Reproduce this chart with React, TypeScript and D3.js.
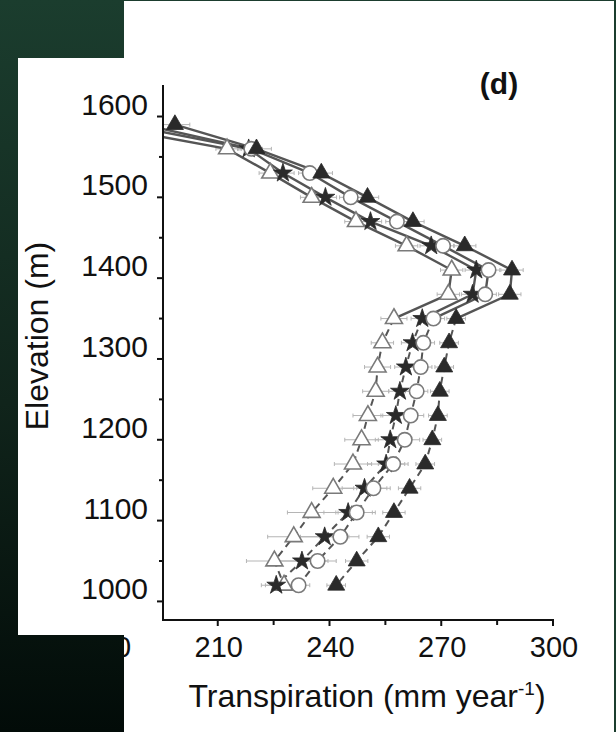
import React from 'react';
import * as d3 from 'd3';

// elevation rows (m), 30 m apart
const elevations = [1590, 1560, 1530, 1500, 1470, 1440, 1410, 1380, 1350, 1320, 1290, 1260, 1230, 1200, 1170, 1140, 1110, 1080, 1050, 1020];

// transpiration (mm year-1) per series
const openTriangle = [177, 212.5, 224.1, 235.2, 247.1, 260.7, 272.8, 271.9, 257.3, 254.2, 252.9, 252.4, 250.3, 248.6, 246.3, 241.0, 235.2, 230.4, 225.2, 227.8];
const filledStar = [185, 218.3, 227.5, 238.9, 251.0, 267.3, 279.4, 278.4, 264.9, 262.3, 260.5, 258.9, 257.8, 256.3, 255.2, 249.4, 245.0, 238.7, 232.6, 225.7];
const openCircle = [190, 219, 234.7, 245.7, 258.1, 270.5, 282.7, 281.8, 267.9, 265.2, 264.5, 263.4, 261.8, 260.2, 257.1, 251.8, 247.3, 242.9, 236.8, 231.7];
const filledTriangle = [198.5, 220.4, 237.8, 250.2, 262.4, 276.3, 289.0, 288.4, 274.0, 272.1, 270.8, 269.6, 269.1, 267.6, 265.7, 261.5, 257.3, 253.1, 247.3, 241.8];

// error bar half-widths
const openTriangleErr = [3, 3, 3, 3, 3, 3, 3, 3, 3.5, 3, 3.5, 3.5, 4, 4.5, 5, 5.5, 6.5, 7, 7.5, 5];
const filledStarErr = [3, 3, 3, 3, 3, 3, 3, 3, 3, 3, 3, 3, 4, 4, 5, 6, 6.5, 6.5, 7, 4];
const openCircleErr = [3, 3, 3, 3, 3, 3, 3, 3, 3, 3, 3, 3, 3.5, 4, 4, 4.5, 5, 5, 5, 3];
const filledTriangleErr = [4, 4, 3, 3, 3, 3, 3, 3, 2.5, 2.5, 2.5, 2.5, 2.5, 2.5, 2.5, 3, 3, 3, 3, 2.5];

const yMajorTicks = [1000, 1100, 1200, 1300, 1400, 1500, 1600];
const yMinorTicks = [1050, 1150, 1250, 1350, 1450, 1550];
const xMajorTicks = [180, 210, 240, 270, 300];
const xMinorTicks = [225, 255, 285];

// index where line style turns from solid to dashed (1350 m)
const splitIndex = 8;

const series = [
	{ name: 'openTriangle', values: openTriangle, err: openTriangleErr },
	{ name: 'filledStar', values: filledStar, err: filledStarErr },
	{ name: 'openCircle', values: openCircle, err: openCircleErr },
	{ name: 'filledTriangle', values: filledTriangle, err: filledTriangleErr },
];

const W = 616;
const H = 732;

export default function App() {
	const x = d3.scaleLinear().domain([195.3, 300]).range([163, 553]);
	const y = d3.scaleLinear().domain([977, 1639]).range([620, 85]);

	const pathFor = (vals: number[], from: number, to: number) =>
		d3
			.line<[number, number]>()
			.x((d) => x(d[0]))
			.y((d) => y(d[1]))(
			vals.slice(from, to + 1).map((v, i) => [v, elevations[from + i]] as [number, number])
		) || '';

	const triangle = d3.symbol().type(d3.symbolTriangle).size(125)() || '';
	const star = d3.symbol().type(d3.symbolStar).size(110)() || '';

	const marker = (name: string, key: string, cx: number, cy: number) => {
		if (name === 'openTriangle')
			return <path key={key} d={triangle} transform={`translate(${cx},${cy})`} fill="#fff" stroke="#7a7a7a" strokeWidth={1.6} />;
		if (name === 'filledStar')
			return <path key={key} d={star} transform={`translate(${cx},${cy})`} fill="#2a2a2a" stroke="#2a2a2a" strokeWidth={0.8} />;
		if (name === 'openCircle')
			return <circle key={key} cx={cx} cy={cy} r={7.2} fill="#fff" stroke="#7a7a7a" strokeWidth={1.6} />;
		return <path key={key} d={triangle} transform={`translate(${cx},${cy})`} fill="#2a2a2a" stroke="#2a2a2a" strokeWidth={0.8} />;
	};

	return (
		<svg
			width={W}
			height={H}
			style={{ position: 'fixed', left: 0, top: 0, display: 'block' }}
			fontFamily="'Liberation Sans', Arial, sans-serif">
			<defs>
				<linearGradient id="bg" x1="0" y1="0" x2="0" y2={H} gradientUnits="userSpaceOnUse">
					<stop offset="0" stopColor="#1b3d2e" />
					<stop offset="0.55" stopColor="#10241b" />
					<stop offset="1" stopColor="#020b08" />
				</linearGradient>
				<clipPath id="plot">
					<rect x={164} y={80} width={440} height={540} />
				</clipPath>
			</defs>

			{/* background and white panels */}
			<rect x={0} y={0} width={W} height={H} fill="url(#bg)" />
			<rect x={124} y={1} width={490} height={H - 1} fill="#fff" />
			<rect x={18} y={58} width={106} height={577} fill="#fff" />

			{/* error bars */}
			<g clipPath="url(#plot)" stroke="#b5b5b5" strokeWidth={1}>
				{series.map((s) =>
					s.values.map((v, i) => {
						const cy = y(elevations[i]);
						const x0 = x(v - s.err[i]);
						const x1 = x(v + s.err[i]);
						return (
							<g key={s.name + 'e' + i}>
								<line x1={x0} x2={x1} y1={cy} y2={cy} />
								<line x1={x0} x2={x0} y1={cy - 2} y2={cy + 2} />
								<line x1={x1} x2={x1} y1={cy - 2} y2={cy + 2} />
							</g>
						);
					})
				)}
			</g>

			{/* connecting lines */}
			<g clipPath="url(#plot)" fill="none">
				{series.map((s) => (
					<g key={s.name + 'l'}>
						<path d={pathFor(s.values, 0, splitIndex)} stroke="#555" strokeWidth={2.4} />
						<path d={pathFor(s.values, splitIndex, elevations.length - 1)} stroke="#555" strokeWidth={2} strokeDasharray="7,5" />
					</g>
				))}
			</g>

			{/* markers */}
			<g clipPath="url(#plot)">
				{series.map((s) => s.values.map((v, i) => marker(s.name, s.name + 'm' + i, x(v), y(elevations[i]))))}
			</g>

			{/* y axis */}
			<g stroke="#111" strokeWidth={2}>
				<line x1={163} x2={163} y1={85} y2={621} />
				{yMajorTicks.map((t) => (
					<line key={'ym' + t} x1={157} x2={163} y1={y(t)} y2={y(t)} />
				))}
				{yMinorTicks.map((t) => (
					<line key={'yn' + t} x1={159} x2={163} y1={y(t)} y2={y(t)} />
				))}
			</g>
			<g fontSize={30} fill="#111" textAnchor="end">
				{yMajorTicks.map((t) => (
					<text key={'yl' + t} x={148} y={y(t) - 2}>
						{t}
					</text>
				))}
			</g>

			{/* x axis */}
			<g stroke="#111" strokeWidth={2}>
				<line x1={162} x2={554} y1={620} y2={620} />
				{xMajorTicks
					.filter((t) => t >= 195.3)
					.map((t) => (
						<line key={'xm' + t} x1={x(t)} x2={x(t)} y1={620} y2={626} />
					))}
				{xMinorTicks.map((t) => (
					<line key={'xn' + t} x1={x(t)} x2={x(t)} y1={620} y2={625} />
				))}
			</g>
			<g fontSize={29} fill="#111" textAnchor="middle">
				{xMajorTicks.map((t) => (
					<text key={'xl' + t} x={x(t) + 1} y={657}>
						{t}
					</text>
				))}
			</g>

			{/* dark frame pieces over the white panels */}
			<rect x={0} y={635} width={124} height={H - 635} fill="url(#bg)" />
			<rect x={0} y={0} width={18} height={H} fill="url(#bg)" />
			<rect x={0} y={0} width={124} height={58} fill="url(#bg)" />
			<rect x={614} y={0} width={2} height={H} fill="#1b3d2e" />
			<rect x={124} y={0} width={492} height={1} fill="#1b3d2e" />

			{/* titles */}
			<text x={367} y={707} fontSize={32} fill="#111" textAnchor="middle">
				Transpiration (mm year
				<tspan fontSize={19} dy={-12}>-1</tspan>
				<tspan dy={12}>)</tspan>
			</text>
			<text transform="translate(48,336) rotate(-90)" fontSize={32} fill="#111" textAnchor="middle">
				Elevation (m)
			</text>
			<text x={499} y={94} fontSize={30} fontWeight="bold" fill="#111" textAnchor="middle">
				(d)
			</text>
		</svg>
	);
}
